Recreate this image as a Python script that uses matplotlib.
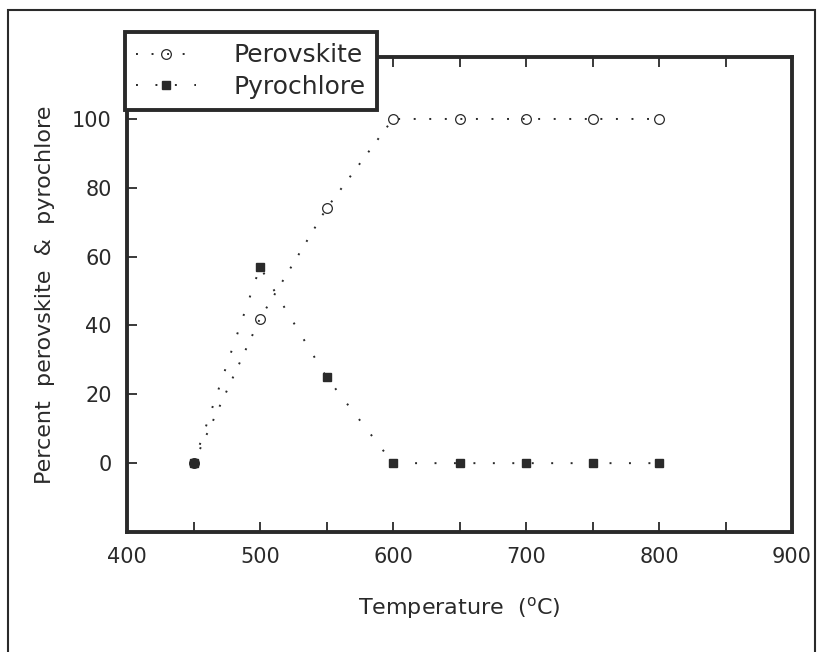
import matplotlib
matplotlib.use("Agg")
import matplotlib.pyplot as plt
from matplotlib.patches import Rectangle

temperature = [450, 500, 550, 600, 650, 700, 750, 800]
perovskite = [0, 42, 74, 100, 100, 100, 100, 100]
pyrochlore = [0, 57, 25, 0, 0, 0, 0, 0]
x_ticks = [400, 500, 600, 700, 800, 900]
y_ticks = [0, 20, 40, 60, 80, 100]

plt.rcParams['font.family'] = ['DejaVu Sans']
ink = '#2a2a2a'

W, H = 821, 652
fig = plt.figure(figsize=(W / 100, H / 100), dpi=100)
ax = fig.add_axes([127 / W, 1 - 532 / H, (792 - 127) / W, (532 - 57) / H])

ax.plot(temperature, perovskite, linestyle=(0, (1, 7)), color=ink, lw=1.4,
        marker='o', markersize=7, markerfacecolor='none', markeredgecolor=ink,
        markeredgewidth=0.9, label='Perovskite')
ax.plot(temperature, pyrochlore, linestyle=(0, (1, 9)), color=ink, lw=1.4,
        marker='s', markersize=6, markerfacecolor=ink, markeredgecolor=ink,
        label='Pyrochlore')

ax.set_xlim(400, 900)
ax.set_ylim(-20, 118)
ax.set_xticks(x_ticks)
ax.set_xticks(range(450, 900, 50), minor=True)
ax.set_yticks(y_ticks)
ax.tick_params(axis='both', which='both', direction='in', length=7, width=1.3,
               colors=ink, labelsize=15, top=True, right=False, pad=11)
for s in ax.spines.values():
    s.set_linewidth(2.8)
    s.set_color(ink)

ax.set_xlabel('Temperature  ($^{\\mathrm{o}}$C)', fontsize=16, color=ink, labelpad=20)
ax.set_ylabel('Percent  perovskite  &  pyrochlore', fontsize=16, color=ink, labelpad=12)

leg = ax.legend(loc='upper left', bbox_to_anchor=(125 / W, 1 - 32 / H),
                bbox_transform=fig.transFigure, fontsize=18,
                frameon=True, fancybox=False, handlelength=2.4, borderpad=0.45,
                labelspacing=0.3, handletextpad=1.5, borderaxespad=0)
fr = leg.get_frame()
fr.set_edgecolor(ink)
fr.set_linewidth(2.8)
fr.set_facecolor('white')
fr.set_alpha(1)
for t in leg.get_texts():
    t.set_color(ink)

fig.patches.append(Rectangle((8 / W, -0.05), (815 - 8) / W, 1.05 - 10 / H,
                             transform=fig.transFigure, fill=False,
                             edgecolor=ink, lw=1.5))

fig.savefig('out.png', dpi=100)
